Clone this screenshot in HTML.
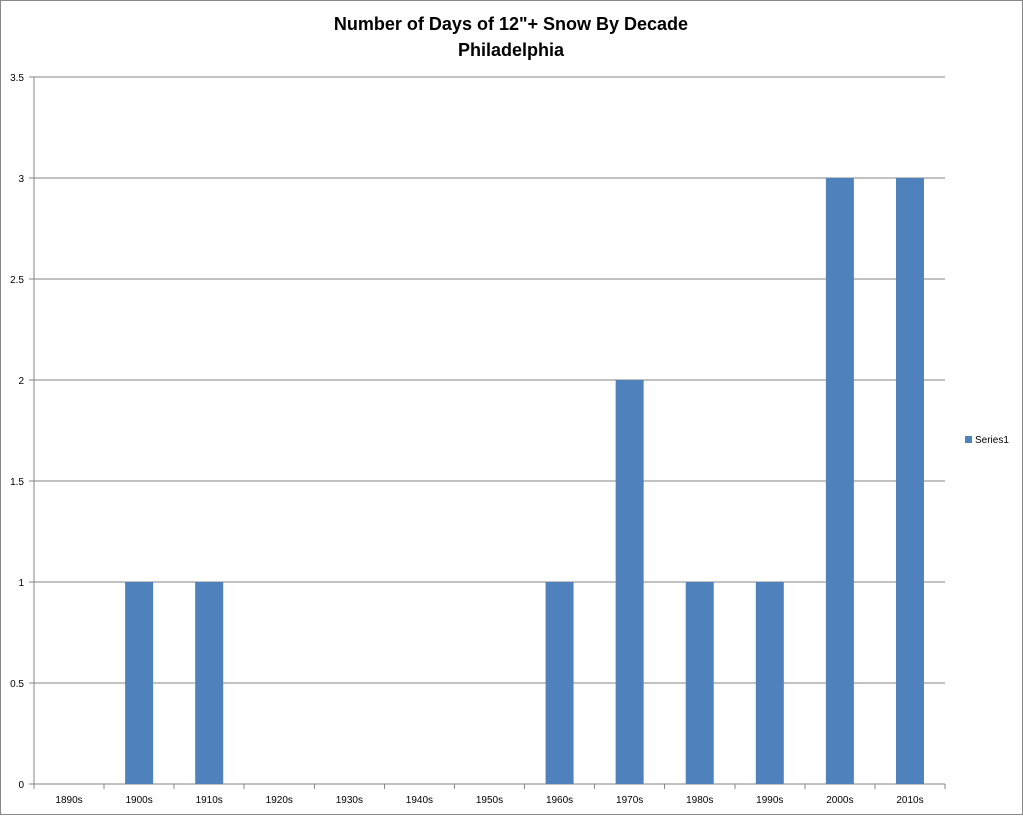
<!DOCTYPE html>
<html><head><meta charset="utf-8"><style>
body{margin:0;background:#fff;font-family:"Liberation Sans",sans-serif}
</style></head><body>
<svg width="1023" height="815" xmlns="http://www.w3.org/2000/svg">
<rect x="0.5" y="0.5" width="1022" height="814" fill="#fff" stroke="#888"/>
<text x="511" y="30" text-anchor="middle" font-size="18" font-weight="bold">Number of Days of 12"+ Snow By Decade</text>
<text x="511" y="56" text-anchor="middle" font-size="18" font-weight="bold">Philadelphia</text>
<g id="grid"></g><g id="bars"></g><g id="axes"></g>
<rect x="965" y="436" width="7" height="7" fill="#4f81bd"/>
<text x="975" y="443" font-size="10">Series1</text>
</svg>
<script>
const categories=["1890s","1900s","1910s","1920s","1930s","1940s","1950s","1960s","1970s","1980s","1990s","2000s","2010s"];
const values=[0,1,1,0,0,0,0,1,2,1,1,3,3];
const yTicks=[0,0.5,1,1.5,2,2.5,3,3.5];
const NS="http://www.w3.org/2000/svg";
const X0=34,X1=945,Y0=784,Y1=77,YMAX=3.5;
const cw=(X1-X0)/categories.length;
const y=v=>Y0-(v/YMAX)*(Y0-Y1);
const xc=i=>X0+cw*(i+0.5);
function mk(t,a,p){const e=document.createElementNS(NS,t);for(const k in a)e.setAttribute(k,a[k]);p.appendChild(e);return e;}
const g=document.getElementById('grid'),b=document.getElementById('bars'),ax=document.getElementById('axes');
yTicks.forEach(v=>{
 const l=mk('line',{x1:X0-5,x2:X1,y1:y(v),y2:y(v),stroke:v===0?'#868686':'#868686','stroke-width':1,'shape-rendering':'crispEdges'},g);
 
 
 const t=mk('text',{x:X0-10,y:y(v)+4,'text-anchor':'end','font-size':10},ax);
 t.textContent=String(v);
 
 
});
values.forEach((v,i)=>{
 if(v>0){const r=mk('rect',{x:xc(i)-14,y:y(v),width:28,height:Y0-y(v),fill:'#4f81bd'},b);
 
 }
 const t=mk('text',{x:xc(i),y:803,'text-anchor':'middle','font-size':10},ax);
 t.textContent=categories[i];
 
 
});
for(let i=0;i<=categories.length;i++){
 const l=mk('line',{x1:X0+cw*i,x2:X0+cw*i,y1:Y0,y2:Y0+5,stroke:'#868686','shape-rendering':'crispEdges'},ax);
 
 
}
const ya=mk('line',{x1:X0,x2:X0,y1:Y1,y2:Y0,stroke:'#868686','shape-rendering':'crispEdges'},ax);


</script>
</body></html>
